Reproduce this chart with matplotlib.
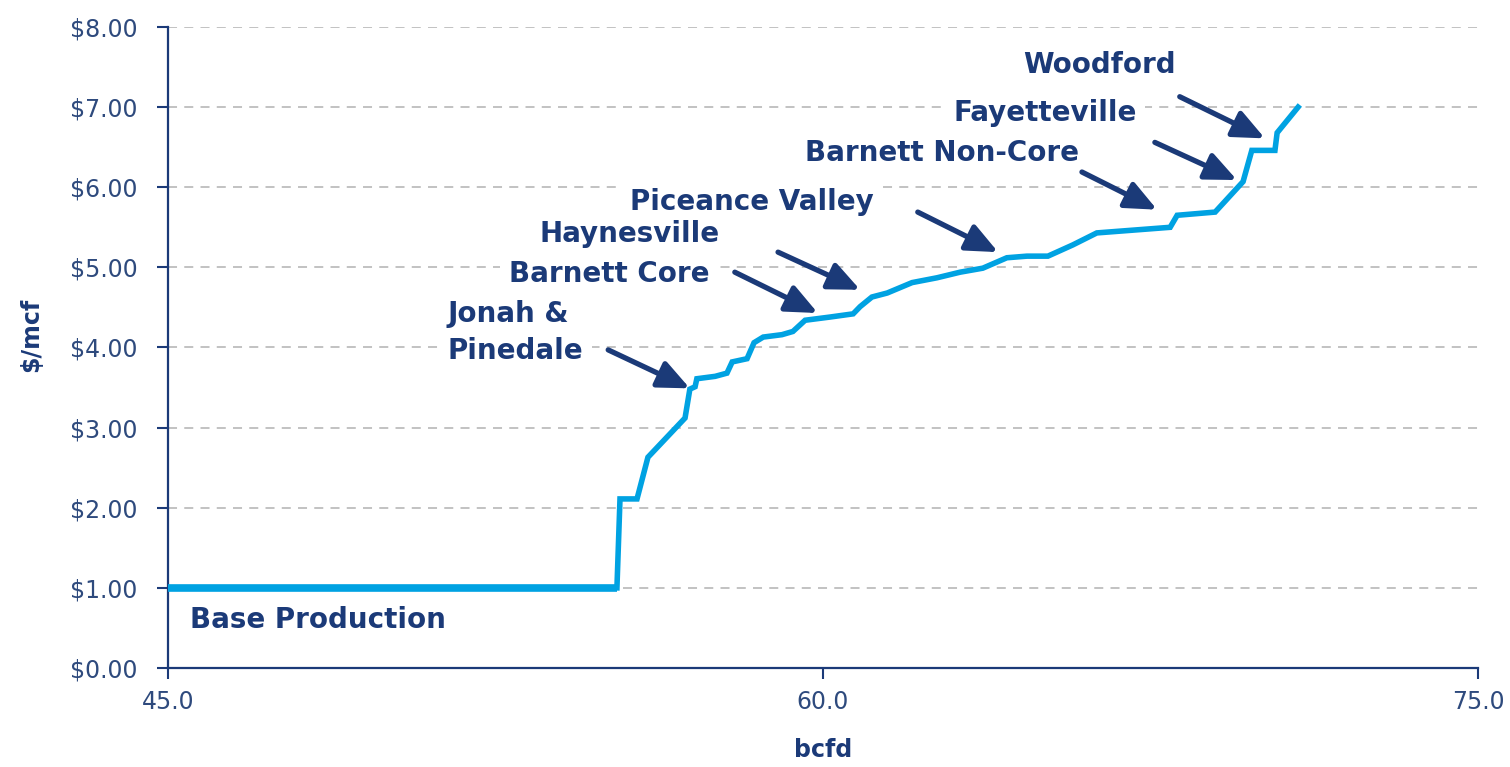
import matplotlib
matplotlib.use("Agg")
import matplotlib.pyplot as plt

# supply curve
supply_bcfd = [45.00, 55.28, 55.35, 55.74, 55.99, 56.84, 56.95, 57.07, 57.11, 57.53,
               57.80, 57.92, 58.26, 58.42, 58.63, 59.06, 59.31, 59.59, 60.16, 60.69,
               60.85, 61.12, 61.47, 62.04, 62.61, 63.14, 63.66, 64.21, 64.67, 65.15,
               65.72, 66.27, 67.95, 68.11, 68.98, 69.62, 69.82, 70.35, 70.40, 70.88]
price_mcf = [1.00, 1.00, 2.11, 2.11, 2.63, 3.12, 3.48, 3.51, 3.61, 3.64,
             3.68, 3.82, 3.86, 4.06, 4.13, 4.16, 4.20, 4.34, 4.38, 4.42,
             4.51, 4.63, 4.68, 4.81, 4.87, 4.94, 4.99, 5.12, 5.14, 5.14,
             5.28, 5.43, 5.50, 5.65, 5.69, 6.07, 6.46, 6.46, 6.68, 7.00]

plays = ["Woodford", "Fayetteville", "Barnett Non-Core", "Piceance Valley",
         "Haynesville", "Barnett Core", "Jonah &\nPinedale"]

x_ticks = [45.0, 60.0, 75.0]
y_ticks = [0, 1, 2, 3, 4, 5, 6, 7, 8]

# label placement (x, y) and arrow (tail, head) for each play
label_pos = [(66.34, 7.53), (65.08, 6.93), (62.72, 6.43), (58.37, 5.82),
             (55.58, 5.42), (55.10, 4.92), (51.41, 4.19)]
arrow_tail = [(68.17, 7.13), (67.60, 6.56), (65.93, 6.19), (62.17, 5.69),
              (58.97, 5.19), (57.98, 4.94), (55.08, 3.97)]
arrow_head = [(70.12, 6.61), (69.48, 6.09), (67.65, 5.72), (64.01, 5.19),
              (60.85, 4.72), (59.88, 4.43), (56.95, 3.49)]

navy = "#1B3A78"
tick_col = "#2E4A7D"
curve_col = "#00A2E2"

plt.rcParams['font.family'] = ['DejaVu Sans']

fig = plt.figure(figsize=(15.1, 7.67), dpi=100)
ax = fig.add_axes([0.1113, 0.1291, 0.8675, 0.8357])

ax.set_xlim(45, 75)
ax.set_ylim(0, 8)

for y in y_ticks[1:]:
    ax.axhline(y, color="#BDBDBD", lw=1.3, ls=(0, (5, 4)), zorder=1)

# base production drawn a bit heavier, like the original
ax.plot(supply_bcfd[:2], price_mcf[:2], color=curve_col, lw=5.5, zorder=4,
        solid_capstyle="butt")
ax.plot(supply_bcfd[1:], price_mcf[1:], color=curve_col, lw=4.0, zorder=4,
        solid_joinstyle="miter")

for name, (tx, ty) in zip(plays, label_pos):
    ha = "left" if "\n" in name else "center"
    ax.text(tx, ty, name, ha=ha, va="center", fontsize=20, fontweight="bold",
            color=navy, linespacing=1.4, zorder=3,
            bbox=dict(boxstyle="square,pad=0.3", fc="white", ec="none"))

for tail, head in zip(arrow_tail, arrow_head):
    ax.annotate("", xy=head, xytext=tail, zorder=5,
                arrowprops=dict(arrowstyle="-|>,head_length=0.95,head_width=0.42",
                                lw=3.8, color=navy, mutation_scale=20,
                                shrinkA=0, shrinkB=0))

ax.text(45.5, 0.60, "Base Production", ha="left", va="center", fontsize=20,
        fontweight="bold", color=navy)

ax.set_xticks(x_ticks)
ax.set_xticklabels([f"{v:.1f}" for v in x_ticks])
ax.set_yticks(y_ticks)
ax.set_yticklabels([f"${v:.2f}" for v in y_ticks])

ax.tick_params(axis="both", direction="out", length=8, width=1.5, color=navy,
               labelsize=17, labelcolor=tick_col)
ax.tick_params(axis="y", pad=14)
ax.tick_params(axis="x", pad=8)

for side in ["top", "right"]:
    ax.spines[side].set_visible(False)
for side in ["left", "bottom"]:
    ax.spines[side].set_color(navy)
    ax.spines[side].set_linewidth(1.6)

ax.set_xlabel("bcfd", fontsize=17, fontweight="bold", color=navy)
ax.set_ylabel("$/mcf", fontsize=17, fontweight="bold", color=navy)
ax.xaxis.set_label_coords(0.5, -0.11)
ax.yaxis.set_label_coords(-0.095, 0.52)

fig.savefig("out.png", dpi=100)
